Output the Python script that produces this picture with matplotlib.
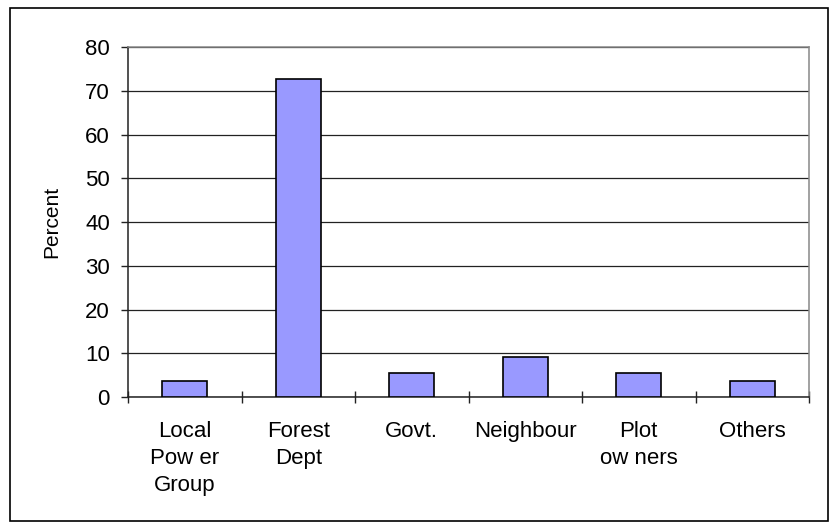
import matplotlib.pyplot as plt
from matplotlib.patches import Rectangle
import numpy as np

# Who respondents go to (percent of respondents)
categories = ['Local\nPow er\nGroup', 'Forest\nDept', 'Govt.', 'Neighbour', 'Plot\now ners', 'Others']
percent = [3.6, 72.7, 5.5, 9.1, 5.5, 3.6]
y_ticks = [0, 10, 20, 30, 40, 50, 60, 70, 80]

plt.rcParams['font.family'] = ['Liberation Sans', 'DejaVu Sans']

fig = plt.figure(figsize=(8.33, 5.26), dpi=100)
ax = fig.add_axes([0.1537, 0.2452, 0.8175, 0.6654])

# border round the whole chart
fig.patches.append(Rectangle((10 / 833, 5 / 526), 818 / 833, 513 / 526,
                             transform=fig.transFigure, fill=False,
                             edgecolor='black', linewidth=1.2))

x = np.arange(len(categories))
ax.bar(x, percent, width=0.4, color='#9999FF', edgecolor='black', linewidth=1.2, zorder=3)

ax.set_xlim(-0.5, len(categories) - 0.5)
ax.set_ylim(0, 80)
ax.set_yticks(y_ticks)
ax.yaxis.grid(True, color='#222222', linewidth=0.9, zorder=0)

# category labels sit between boundary ticks
ax.set_xticks(x)
ax.set_xticklabels(categories, fontsize=16, linespacing=1.4)
ax.tick_params(axis='x', which='major', length=0, pad=17)
ax.set_xticks(np.arange(-0.5, len(categories)), minor=True)
ax.tick_params(axis='x', which='minor', direction='inout', length=8, width=1, color='#222222')

ax.tick_params(axis='y', labelsize=16, length=5, width=1, color='#222222', pad=8)

ax.set_ylabel('Percent', fontsize=15)
ax.yaxis.set_label_coords(-0.098, 0.5)

for side in ['top', 'right']:
    ax.spines[side].set_color('#888888')
ax.spines['left'].set_color('#222222')
ax.spines['bottom'].set_color('#222222')
for s in ax.spines.values():
    s.set_linewidth(1.1)

fig.savefig('out.png', dpi=100)
